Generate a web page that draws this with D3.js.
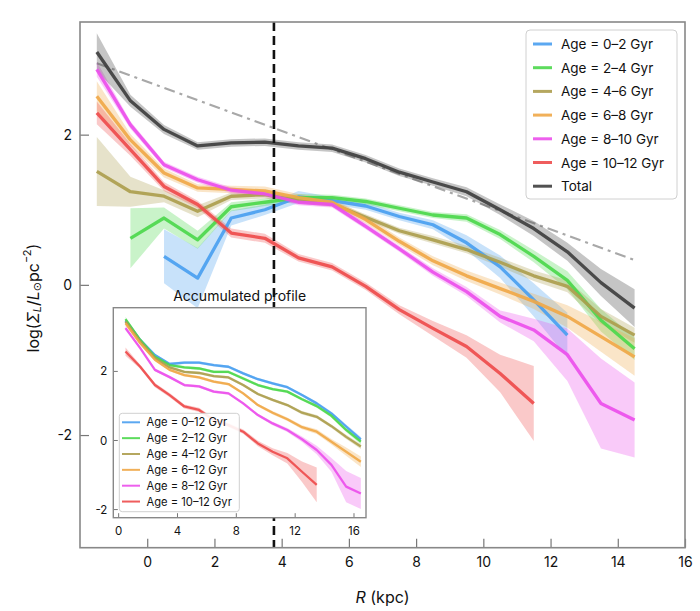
<!DOCTYPE html>
<html><head><meta charset="utf-8">
<script src="https://cdn.jsdelivr.net/npm/d3@7"></script>
<style>
html,body{margin:0;padding:0;background:#fff;}
text{font-family:Inter,"Liberation Sans","DejaVu Sans",sans-serif;fill:#111;}
</style></head>
<body><svg id="c" width="700" height="611"></svg>
<script>
// ---------- DATA ----------
const seriesNames = ["Age = 0–2 Gyr","Age = 2–4 Gyr","Age = 4–6 Gyr","Age = 6–8 Gyr","Age = 8–10 Gyr","Age = 10–12 Gyr","Total"];
const insetNames = ["Age = 0–12 Gyr","Age = 2–12 Gyr","Age = 4–12 Gyr","Age = 6–12 Gyr","Age = 8–12 Gyr","Age = 10–12 Gyr"];
const colors = ["#4a9ff0","#4cd84c","#ad9e4e","#f0a848","#ec4fec","#ee4c4c","#3f3f3f"];

const xMain = [-1.5,-0.5,0.5,1.5,2.5,3.5,4.5,5.5,6.5,7.5,8.5,9.5,10.5,11.5,12.5,13.5,14.5];
const blue    = [null,null,0.38,0.09,0.89,1.0,1.17,1.12,1.05,0.91,0.8,0.56,0.24,-0.2,-0.67,null,null];
const blueErr = [null,null,0.36,0.4,0.1,0.07,0.08,0.05,0.05,0.05,0.06,0.1,0.15,0.22,0.3,null,null];
const green    = [null,0.62,0.89,0.6,1.04,1.1,1.16,1.16,1.11,1.02,0.93,0.89,0.67,0.38,0.06,-0.47,-0.85];
const greenErr = [null,0.4,0.14,0.12,0.06,0.05,0.05,0.04,0.04,0.04,0.04,0.05,0.06,0.08,0.12,0.15,0.15];
const olive    = [1.51,1.24,1.18,0.98,1.18,1.2,1.12,1.08,0.9,0.72,0.6,0.47,0.3,0.12,-0.02,-0.42,-0.67];
const oliveErr = [0.46,0.2,0.08,0.08,0.05,0.05,0.04,0.04,0.04,0.04,0.05,0.05,0.06,0.07,0.08,0.1,0.1];
const orange    = [2.51,1.93,1.49,1.29,1.27,1.25,1.16,1.1,0.87,0.58,0.32,0.12,-0.05,-0.22,-0.42,-0.69,-0.96];
const orangeErr = [0.2,0.08,0.06,0.05,0.05,0.06,0.05,0.05,0.05,0.05,0.06,0.07,0.08,0.1,0.15,0.2,0.25];
const magenta    = [2.87,2.13,1.6,1.4,1.26,1.21,1.1,1.07,0.78,0.48,0.17,-0.09,-0.42,-0.6,-0.93,-1.58,-1.8];
const magentaErr = [0.1,0.05,0.04,0.04,0.04,0.04,0.04,0.04,0.04,0.04,0.05,0.06,0.08,0.15,0.35,0.6,0.5];
const red    = [2.29,1.8,1.31,1.07,0.69,0.62,0.36,0.24,-0.02,-0.33,-0.58,-0.82,-1.18,-1.58,null,null,null];
const redErr = [0.15,0.08,0.06,0.05,0.06,0.06,0.05,0.05,0.05,0.06,0.1,0.15,0.25,0.5,null,null,null];
const total    = [3.1,2.45,2.07,1.85,1.89,1.9,1.85,1.82,1.68,1.5,1.37,1.24,1.0,0.75,0.44,0.03,-0.31];
const totalErr = [0.25,0.08,0.06,0.05,0.05,0.05,0.05,0.05,0.05,0.05,0.05,0.06,0.07,0.1,0.12,0.18,0.25];

const refX = [-1.5,14.5];
const refY = [2.95,0.33];
const dividerX = 3.77;

const xTicksMain = [0,2,4,6,8,10,12,14,16];
const yTicksMain = [-2,0,2];

const xInset = [0.5,1.5,2.5,3.5,4.5,5.5,6.5,7.5,8.5,9.5,10.5,11.5,12.5,13.5,14.5,15.5,16.5];
const inBlue    = [3.46,2.9,2.46,2.2,2.24,2.24,2.17,2.12,1.93,1.76,1.64,1.53,1.3,1.06,0.77,0.39,0.02];
const inBlueErr = [0.05,0.04,0.04,0.04,0.04,0.04,0.04,0.04,0.04,0.04,0.04,0.04,0.04,0.05,0.05,0.06,0.07];
const inGreen    = [3.5,2.9,2.41,2.17,2.1,2.07,1.97,1.97,1.78,1.59,1.47,1.4,1.18,0.98,0.7,0.29,-0.05];
const inGreenErr = [0.06,0.04,0.04,0.04,0.04,0.04,0.04,0.04,0.04,0.04,0.04,0.04,0.04,0.05,0.05,0.06,0.07];
const inOlive    = [3.43,2.85,2.37,2.1,1.97,1.94,1.85,1.81,1.59,1.33,1.16,1.01,0.79,0.67,0.4,0.09,-0.19];
const inOliveErr = [0.06,0.04,0.04,0.04,0.04,0.04,0.04,0.04,0.04,0.04,0.04,0.04,0.05,0.05,0.05,0.06,0.07];
const inOrange    = [3.38,2.8,2.32,2.03,1.88,1.81,1.69,1.62,1.35,1.01,0.79,0.6,0.37,0.24,-0.05,-0.34,-0.63];
const inOrangeErr = [0.06,0.04,0.04,0.04,0.04,0.04,0.04,0.04,0.04,0.04,0.05,0.05,0.06,0.07,0.08,0.12,0.15];
const inMagenta    = [3.24,2.66,2.03,1.82,1.59,1.55,1.4,1.35,1.06,0.72,0.48,0.29,0.02,-0.29,-0.72,-1.35,-1.55];
const inMagentaErr = [0.06,0.04,0.04,0.04,0.04,0.04,0.04,0.04,0.04,0.04,0.05,0.06,0.08,0.12,0.2,0.45,0.45];
const inRed    = [2.56,2.12,1.59,1.3,0.97,0.87,0.58,0.43,0.24,-0.1,-0.34,-0.53,-0.92,-1.3];
const inRedErr = [0.12,0.06,0.06,0.06,0.06,0.06,0.06,0.06,0.06,0.08,0.1,0.15,0.3,0.5];

const xTicksInset = [0,4,8,12,16];
const yTicksInset = [-2,0,2];

// ---------- BUILD ----------
const svg = d3.select("#c");
const xM = d3.scaleLinear().domain([-2,16]).range([80,685]);
const yM = d3.scaleLinear().domain([-3.5,3.5]).range([547.7,22]);

const mainSeries = [
  {v:blue,e:blueErr},{v:green,e:greenErr},{v:olive,e:oliveErr},{v:orange,e:orangeErr},
  {v:magenta,e:magentaErr},{v:red,e:redErr},{v:total,e:totalErr}
].map((s,i)=>({name:seriesNames[i],color:colors[i],
  pts:xMain.map((x,j)=>({x,y:s.v[j],e:s.e[j]})).filter(p=>p.y!=null)}));

function drawSeries(g, series, xs, ys, lw, fillOp){
  const area = d3.area().x(d=>xs(d.x)).y0(d=>ys(d.y-d.e)).y1(d=>ys(d.y+d.e));
  const line = d3.line().x(d=>xs(d.x)).y(d=>ys(d.y));
  series.forEach(s=>{
    g.append("path").attr("d",area(s.pts)).attr("fill",s.color).attr("opacity",fillOp);
  });
  series.forEach(s=>{
    g.append("path").attr("d",line(s.pts)).attr("fill","none").attr("stroke",s.color)
      .attr("stroke-width",lw).attr("stroke-linejoin","round").attr("opacity",0.92);
  });
}

const gMain = svg.append("g");
gMain.append("path")
  .attr("d", d3.line().x(d=>xM(d[0])).y(d=>yM(d[1]))(refX.map((x,i)=>[x,refY[i]])))
  .attr("stroke","#a8a8a8").attr("stroke-width",2.2).attr("fill","none")
  .attr("stroke-dasharray","11,5,3,5");
drawSeries(gMain, mainSeries, xM, yM, 3.3, 0.3);

gMain.append("line").attr("x1",xM(dividerX)).attr("x2",xM(dividerX))
  .attr("y1",yM(3.5)).attr("y2",yM(-3.5))
  .attr("stroke","#111").attr("stroke-width",2.6).attr("stroke-dasharray","9,5");

const axB = svg.append("g").attr("transform","translate(0,547.7)")
  .call(d3.axisBottom(xM).tickValues(xTicksMain).tickSizeInner(-9).tickSizeOuter(0).tickFormat(d3.format("d")));
axB.select(".domain").remove();
axB.selectAll(".tick line").attr("stroke","#777").attr("stroke-width",1.2);
axB.selectAll("text").attr("y",14.5).attr("dy","0.35em").style("font-size","14px").attr("fill","#111");

const axL = svg.append("g").attr("transform","translate(80,0)")
  .call(d3.axisLeft(yM).tickValues(yTicksMain).tickSizeInner(-9).tickSizeOuter(0).tickFormat(d=>d<0?"-"+Math.abs(d):d));
axL.select(".domain").remove();
axL.selectAll(".tick line").attr("stroke","#777").attr("stroke-width",1.2);
axL.selectAll("text").attr("x",-8).attr("dy","0.35em").style("font-size","14px").attr("fill","#111");

svg.append("rect").attr("x",80).attr("y",22).attr("width",605).attr("height",525.7)
  .attr("fill","none").attr("stroke","#888").attr("stroke-width",1.6);

const xl = svg.append("text").attr("x",382.5).attr("y",597).attr("text-anchor","middle")
  .attr("dominant-baseline","central").style("font-size","16px");
xl.append("tspan").style("font-style","italic").text("R");
xl.append("tspan").text(" (kpc)");

const yl = svg.append("text").attr("transform","translate(33,298) rotate(-90)")
  .attr("text-anchor","middle").attr("dominant-baseline","central").style("font-size","16px");
yl.append("tspan").text("log(");
yl.append("tspan").style("font-style","italic").text("Σ");
yl.append("tspan").style("font-style","italic").style("font-size","11px").attr("dy","4").text("L");
yl.append("tspan").attr("dy","-4").text("/");
yl.append("tspan").style("font-style","italic").text("L");
yl.append("tspan").style("font-size","11px").attr("dy","4").text("⊙");
yl.append("tspan").attr("dy","-4").text("pc");
yl.append("tspan").style("font-size","11px").attr("dy","-6").text("−2");
yl.append("tspan").attr("dy","6").text(")");

const lg = svg.append("g");
lg.append("rect").attr("x",526).attr("y",30).attr("width",151).attr("height",169).attr("rx",4)
  .attr("fill","#fff").attr("fill-opacity",0.85).attr("stroke","#d0d0d0").attr("stroke-width",1);
mainSeries.forEach((s,i)=>{
  const y = 44 + i*23.7;
  lg.append("line").attr("x1",533).attr("x2",552).attr("y1",y).attr("y2",y)
    .attr("stroke",s.color).attr("stroke-width",3).attr("opacity",0.9);
  lg.append("text").attr("x",561).attr("y",y).attr("dominant-baseline","central")
    .style("font-size","13.5px").text(s.name);
});

// ---------- INSET ----------
const xI = d3.scaleLinear().domain([-0.33,16.85]).range([113.3,366]);
const yI = d3.scaleLinear().domain([-2.25,3.83]).range([517.7,307.7]);
svg.append("rect").attr("x",113.3).attr("y",307.7).attr("width",252.7).attr("height",210)
  .attr("fill","#fff");
svg.append("text").attr("x",239.7).attr("y",295).attr("text-anchor","middle")
  .attr("dominant-baseline","central").style("font-size","14px").text("Accumulated profile");

const insetSeries = [
  {v:inBlue,e:inBlueErr},{v:inGreen,e:inGreenErr},{v:inOlive,e:inOliveErr},
  {v:inOrange,e:inOrangeErr},{v:inMagenta,e:inMagentaErr},{v:inRed,e:inRedErr}
].map((s,i)=>({name:insetNames[i],color:colors[i],
  pts:s.v.map((y,j)=>({x:xInset[j],y,e:s.e[j]}))}));
const gIn = svg.append("g");
drawSeries(gIn, insetSeries, xI, yI, 2.3, 0.3);

const iaB = svg.append("g").attr("transform","translate(0,517.7)")
  .call(d3.axisBottom(xI).tickValues(xTicksInset).tickSizeInner(-4.5).tickSizeOuter(0).tickFormat(d3.format("d")));
iaB.select(".domain").remove();
iaB.selectAll(".tick line").attr("stroke","#777");
iaB.selectAll("text").attr("y",13.5).attr("dy","0.35em").style("font-size","11.5px").attr("fill","#111");
const iaL = svg.append("g").attr("transform","translate(113.3,0)")
  .call(d3.axisLeft(yI).tickValues(yTicksInset).tickSizeInner(-4.5).tickSizeOuter(0).tickFormat(d=>d<0?"-"+Math.abs(d):d));
iaL.select(".domain").remove();
iaL.selectAll(".tick line").attr("stroke","#777");
iaL.selectAll("text").attr("x",-6).attr("dy","0.35em").style("font-size","11.5px").attr("fill","#111");
svg.append("rect").attr("x",113.3).attr("y",307.7).attr("width",252.7).attr("height",210)
  .attr("fill","none").attr("stroke","#888").attr("stroke-width",1.4);

const il = svg.append("g");
il.append("rect").attr("x",119.3).attr("y",413.3).attr("width",120).attr("height",98.4).attr("rx",3)
  .attr("fill","#fff").attr("fill-opacity",0.9).attr("stroke","#d0d0d0");
insetSeries.forEach((s,i)=>{
  const y = 422.3 + i*15.85;
  il.append("line").attr("x1",122).attr("x2",140).attr("y1",y).attr("y2",y)
    .attr("stroke",s.color).attr("stroke-width",2).attr("opacity",0.9);
  il.append("text").attr("x",146.5).attr("y",y).attr("dominant-baseline","central")
    .style("font-size","11.2px").text(s.name);
});
</script></body></html>
